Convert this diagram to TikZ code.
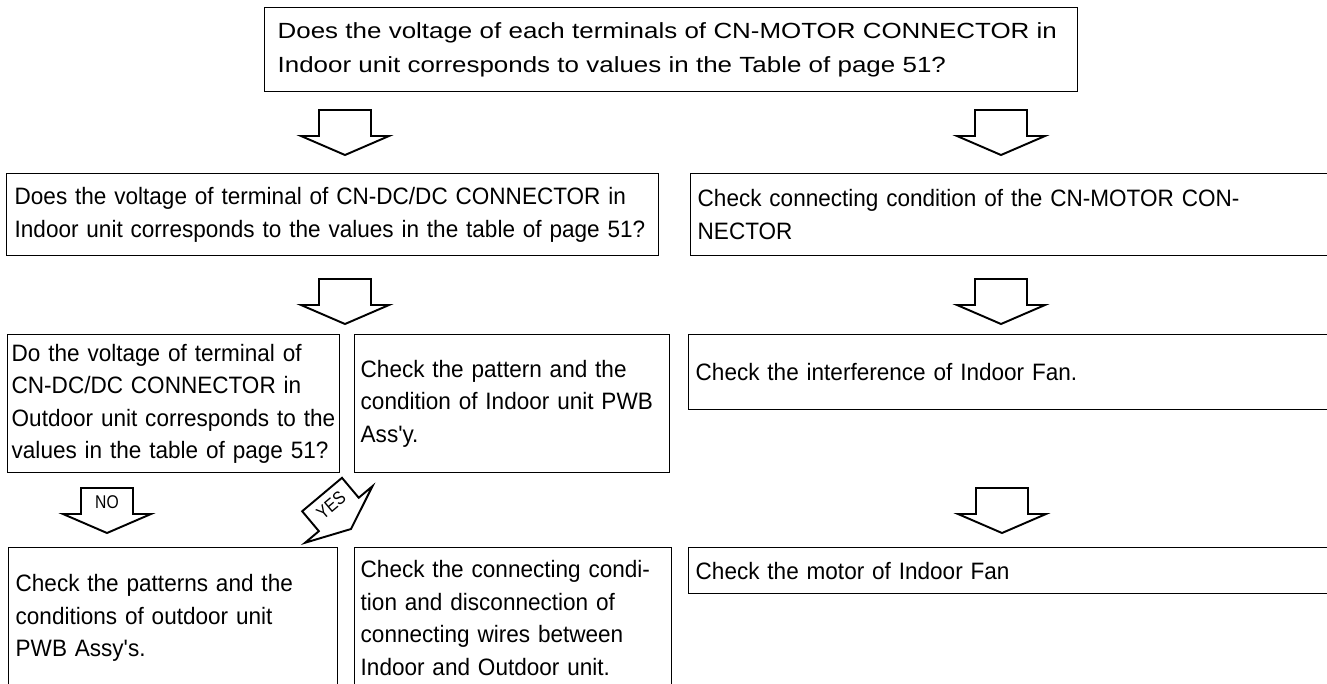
\documentclass[tikz,border=0pt]{standalone}
\usepackage{fontspec}
\setmainfont{Liberation Sans}
\newfontfamily\bodyfont[FakeStretch=0.95]{Liberation Sans}
\newfontfamily\headfont[FakeStretch=1.18]{Liberation Sans}
\newfontfamily\tagfont[FakeStretch=0.85]{Liberation Sans}
\usetikzlibrary{positioning}

\begin{document}
\begin{tikzpicture}[x=0.02cm, y=-0.02cm]
    \tikzstyle{box} = [rectangle, draw=black, line width=0.8pt, anchor=north west, align=left, inner ysep=0pt, font=\bodyfont\fontsize{13.5}{18.5}\selectfont]
    \tikzstyle{question} = [box, font=\headfont\fontsize{12.5}{19.3}\selectfont]
    \tikzstyle{arrowline} = [line width=1.1pt, fill=white]
    \tikzstyle{tag} = [inner sep=0pt, font=\tagfont\fontsize{10.5}{12}\selectfont]
    \tikzset{
        pics/downarrow/.style={code={\draw[arrowline] (-26,-45) -- (26,-45) -- (26,-19) -- (44,-19) -- (0,0) -- (-44,-19) -- (-26,-19) -- cycle;}},
        pics/tagarrow/.style={code={\draw[arrowline] (-26,-45) -- (26,-45) -- (26,-19) -- (44,-19) -- (0,0) -- (-44,-19) -- (-26,-19) -- cycle;
            \node[tag, transform shape] (-tag) at (0,-31) {#1};}}
    }

    \useasboundingbox (0,0) rectangle (1327,683);
    \clip (0,0) rectangle (1327,683);

    \node[question, inner xsep=0.26cm, text width=15.74cm, minimum height=1.68cm] (volt) at (264,7) {Does the voltage of each terminals of CN-MOTOR CONNECTOR in\\Indoor unit corresponds to values in the Table of page 51?};

    % second row
    \node[box, inner xsep=0.16cm, text width=12.72cm, minimum height=1.64cm] (indc) at (6,173) {Does the voltage of terminal of CN-DC/DC CONNECTOR in\\Indoor unit corresponds to the values in the table of page 51?};
    \node[box, inner xsep=0.14cm, text width=12.92cm, minimum height=1.64cm] (motcon) at (690,173) {Check connecting condition of the CN-MOTOR CON-\\NECTOR};

    % third row
    \node[box, inner xsep=0.08cm, text width=6.48cm, minimum height=2.76cm] (outdc) at (7,334) {Do the voltage of terminal of\\CN-DC/DC CONNECTOR in\\Outdoor unit corresponds to the\\values in the table of page 51?};
    \node[box, inner xsep=0.12cm, text width=6.06cm, minimum height=2.76cm] (inpwb) at (354,334) {Check the pattern and the\\condition of Indoor unit PWB\\Ass'y.};
    \node[box, inner xsep=0.14cm, text width=12.92cm, minimum height=1.5cm] (fan) at (688,334) {Check the interference of Indoor Fan.};

    % last row
    \node[box, inner xsep=0.14cm, text width=6.3cm, minimum height=2.82cm] (outpwb) at (8,547) {Check the patterns and the\\conditions of outdoor unit\\PWB Assy's.};
    \node[box, inner xsep=0.12cm, text width=6.1cm, minimum height=2.82cm] (wires) at (354,547) {Check the connecting condi-\\tion and disconnection of\\connecting wires between\\Indoor and Outdoor unit.};
    \node[box, inner xsep=0.14cm, text width=12.92cm, minimum height=0.92cm] (motor) at (688,547) {Check the motor of Indoor Fan};

    % hollow block arrows between the rows
    \pic at (345,155) {downarrow};
    \pic at (1001,155) {downarrow};
    \pic at (345,324) {downarrow};
    \pic at (1001,324) {downarrow};
    \pic (no) at (107,533) {tagarrow=NO};
    \pic[rotate=40] (yes) at (351,529) {tagarrow=YES};
    \pic at (1002,533) {downarrow};
\end{tikzpicture}
\end{document}
